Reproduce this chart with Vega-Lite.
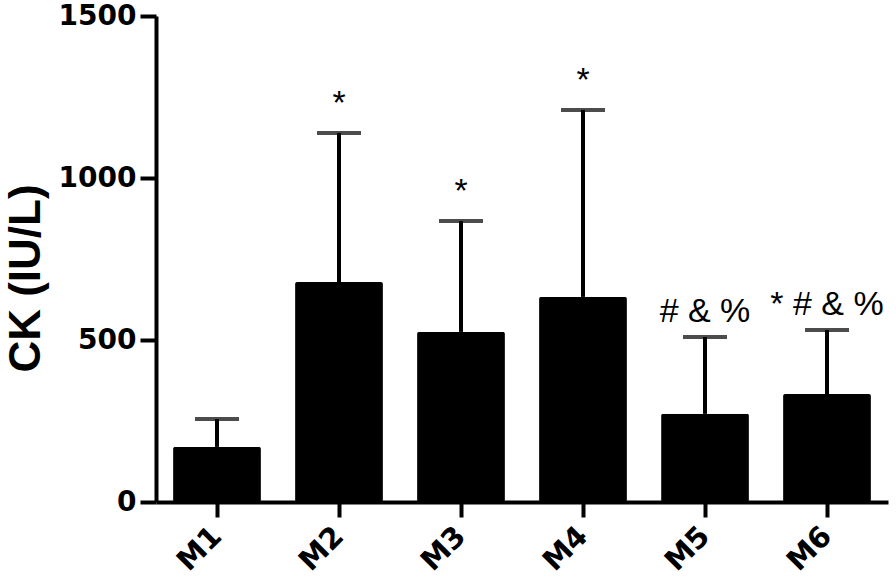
{
  "$schema": "https://vega.github.io/schema/vega-lite/v6.json",
  "width": 732,
  "height": 486,
  "autosize": {"type": "none"},
  "padding": {"left": 156, "top": 16, "right": 8, "bottom": 84},
  "background": "white",
  "config": {
    "view": {"stroke": null},
    "axis": {"grid": false, "domainColor": "black", "tickColor": "black", "labelColor": "black", "titleColor": "black"}
  },
  "data": {
    "values": [
      {"group": "M1", "mean": 170, "upper": 256, "sig": "", "kind": "none"},
      {"group": "M2", "mean": 679, "upper": 1139, "sig": "*", "kind": "star"},
      {"group": "M3", "mean": 525, "upper": 867, "sig": "*", "kind": "star"},
      {"group": "M4", "mean": 633, "upper": 1210, "sig": "*", "kind": "star"},
      {"group": "M5", "mean": 272, "upper": 509, "sig": "# & %", "kind": "combo"},
      {"group": "M6", "mean": 333, "upper": 531, "sig": "* # & %", "kind": "combo"}
    ]
  },
  "encoding": {
    "x": {
      "field": "group", "type": "nominal", "sort": null,
      "scale": {"paddingInner": 0.28, "paddingOuter": 0.14},
      "axis": {
        "title": null, "domainWidth": 4, "tickWidth": 4, "tickSize": 15,
        "labelAngle": -45, "labelAlign": "right", "labelBaseline": "middle",
        "labelFont": "DejaVu Sans", "labelFontWeight": "bold", "labelFontSize": 29, "labelPadding": 14
      }
    }
  },
  "layer": [
    {
      "mark": {"type": "rule", "color": "black", "strokeWidth": 4},
      "encoding": {
        "y": {"field": "mean", "type": "quantitative"},
        "y2": {"field": "upper"}
      }
    },
    {
      "mark": {"type": "tick", "color": "black", "thickness": 4, "size": 44},
      "encoding": {
        "y": {"field": "upper", "type": "quantitative"}
      }
    },
    {
      "mark": {"type": "bar", "color": "black", "cornerRadius": 2},
      "encoding": {
        "y": {
          "field": "mean", "type": "quantitative",
          "scale": {"domain": [0, 1500], "nice": false},
          "axis": {
            "values": [0, 500, 1000, 1500], "format": "d",
            "title": "CK (IU/L)", "titleFont": "Liberation Sans", "titleFontWeight": "bold", "titleFontSize": 44,
            "titleX": -130, "titleY": 262, "titleBaseline": "middle", "titleAlign": "center",
            "domainWidth": 4, "tickWidth": 4, "tickSize": 16, "labelPadding": 4,
            "labelFont": "DejaVu Sans", "labelFontWeight": "bold", "labelFontSize": 28
          }
        }
      }
    },
    {
      "transform": [{"filter": "datum.kind == 'star'"}],
      "mark": {"type": "text", "font": "Liberation Sans", "fontSize": 34, "baseline": "alphabetic", "dy": -19, "color": "black"},
      "encoding": {
        "y": {"field": "upper", "type": "quantitative"},
        "text": {"field": "sig"}
      }
    },
    {
      "transform": [{"filter": "datum.kind == 'combo'"}],
      "mark": {"type": "text", "font": "Liberation Sans", "fontSize": 34, "baseline": "alphabetic", "dy": -15, "color": "black"},
      "encoding": {
        "y": {"field": "upper", "type": "quantitative"},
        "text": {"field": "sig"}
      }
    }
  ]
}
